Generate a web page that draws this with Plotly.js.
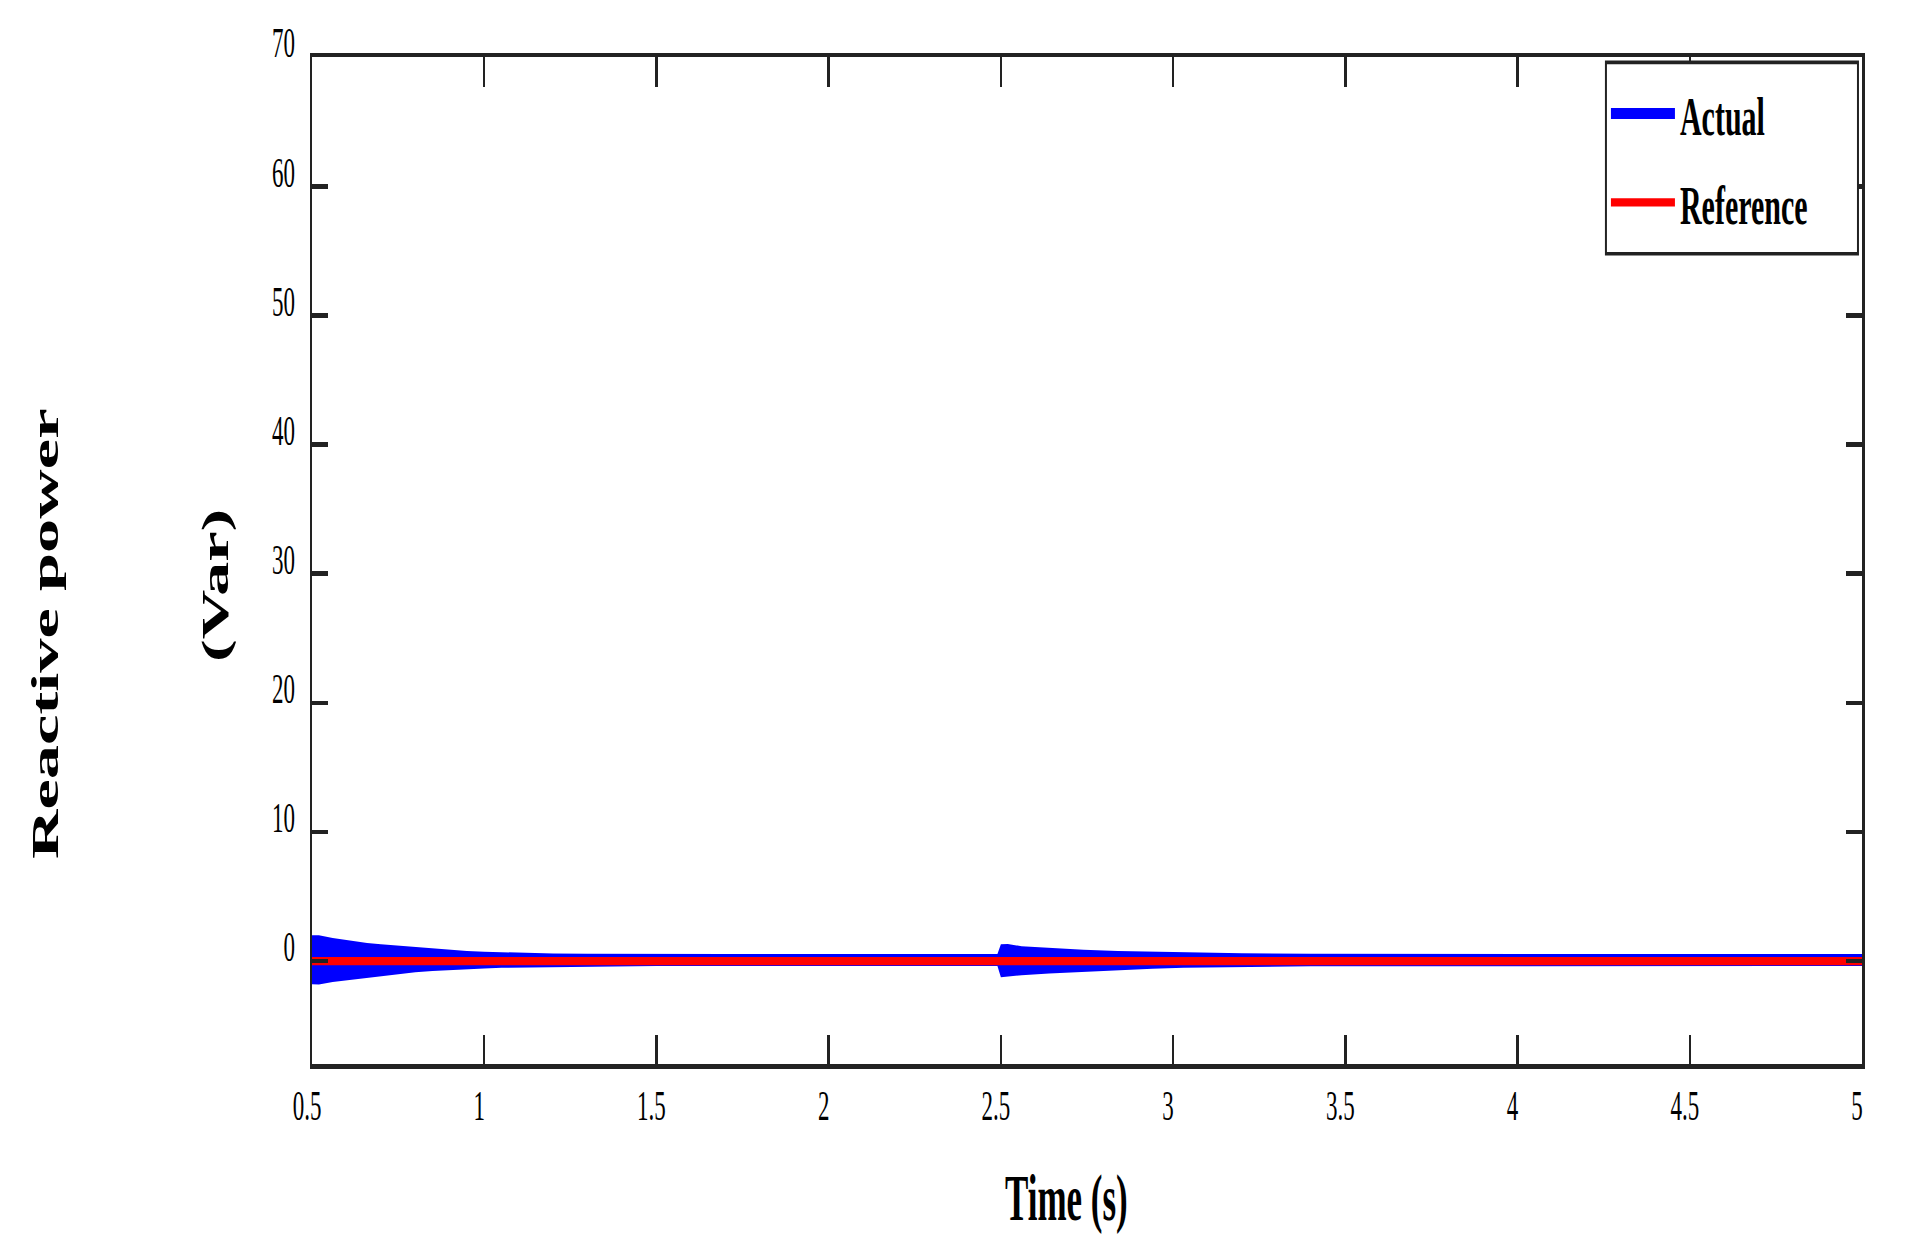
<!DOCTYPE html>
<html>
<head>
<meta charset="utf-8">
<script src="https://cdn.plot.ly/plotly-3.0.1.min.js"></script>
<style>
  html, body { margin: 0; padding: 0; background: #fff; width: 1906px; height: 1255px; }
  #wrap { width: 1906px; height: 678px; transform: scaleY(1.851); transform-origin: 0 0; }
</style>
</head>
<body>
<div id="wrap"><div id="chart"></div></div>
<script>
// Time axis ticks
const xTicks = [0.5, 1, 1.5, 2, 2.5, 3, 3.5, 4, 4.5, 5];
const xTickText = ['0.5', '1', '1.5', '2', '2.5', '3', '3.5', '4', '4.5', '5'];
const yTicks = [0, 10, 20, 30, 40, 50, 60, 70];
const yTickText = ['0', '10', '20', '30', '40', '50', '60', '70'];

// Envelope of the oscillating "Actual" reactive power (Var)
const tEnv = [0.5, 0.52, 0.56, 0.6, 0.66, 0.7, 0.76, 0.8, 0.85, 0.9, 0.95, 1.0, 1.05, 1.1, 1.2, 1.3, 1.4, 1.5, 1.7, 2.0, 2.49,
              2.5, 2.52, 2.56, 2.64, 2.74, 2.84, 2.94, 3.03, 3.2, 3.4, 3.6, 3.9, 4.5, 5.0];
const actualUpper = [2.0, 2.0, 1.78, 1.6, 1.39, 1.3, 1.16, 1.05, 0.93, 0.85, 0.77, 0.72, 0.67, 0.64, 0.58, 0.56, 0.54, 0.54, 0.54, 0.54, 0.54,
                     1.3, 1.32, 1.15, 0.98, 0.87, 0.77, 0.7, 0.64, 0.6, 0.57, 0.55, 0.54, 0.54, 0.54];
const actualLower = [-1.8, -1.82, -1.63, -1.5, -1.24, -1.1, -0.93, -0.86, -0.77, -0.68, -0.62, -0.57, -0.52, -0.5, -0.45, -0.42, -0.4, -0.39, -0.39, -0.39, -0.39,
                     -1.26, -1.2, -1.1, -0.96, -0.82, -0.7, -0.6, -0.52, -0.44, -0.41, -0.4, -0.39, -0.39, -0.39];

// Mean actual value and reference value
const tLine = [0.5, 5];
const actualMean = [0.08, 0.08];
const referenceValue = [0, 0];

const blue = '#0000ff';
const red = '#ff0000';
const axisColor = '#222222';
const serif = 'Liberation Serif, Times New Roman, serif';

const traces = [
  { x: tEnv, y: actualLower, mode: 'lines', line: { width: 0, color: blue }, showlegend: false, hoverinfo: 'skip' },
  { x: tEnv, y: actualUpper, mode: 'lines', line: { width: 0, color: blue }, fill: 'tonexty', fillcolor: blue, showlegend: false, hoverinfo: 'skip' },
  { x: tLine, y: actualMean, mode: 'lines', name: 'Actual', legendgroup: 'a', line: { width: 6, color: blue } },
  { x: tLine, y: referenceValue, mode: 'lines', name: 'Reference', legendgroup: 'r', line: { width: 4.5, color: red } }
];

const axisCommon = {
  showline: true, mirror: 'allticks', linecolor: axisColor, linewidth: 2.5,
  ticks: 'inside', ticklen: 16, tickwidth: 2.5, tickcolor: axisColor,
  showgrid: false, zeroline: false,
  tickfont: { family: serif, size: 23, color: '#000' }
};

const layout = {
  width: 1906, height: 678,
  margin: { l: 312, r: 44, t: 31, b: 103 },
  paper_bgcolor: '#fff', plot_bgcolor: '#fff',
  showlegend: true,
  xaxis: Object.assign({}, axisCommon, {
    range: [0.5, 5], tickmode: 'array', tickvals: xTicks, ticktext: xTickText,
    ticklabelshift: -5
  }),
  yaxis: Object.assign({}, axisCommon, {
    range: [-8, 70], tickmode: 'array', tickvals: yTicks, ticktext: yTickText,
    ticklabelshift: -8, ticklabelstandoff: 10
  }),
  legend: {
    x: 0.8348, y: 0.992, xanchor: 'left', yanchor: 'top',
    bgcolor: 'rgba(0,0,0,0)', borderwidth: 0,
    font: { family: serif, size: 30, color: '#000', weight: 'bold' },
    itemwidth: 64, tracegroupgap: 6
  },
  shapes: [
    { type: 'rect', xref: 'paper', yref: 'paper', x0: 0.8348, x1: 0.9974, y0: 0.805, y1: 0.995,
      line: { color: axisColor, width: 2 }, fillcolor: '#fff', layer: 'above' }
  ],
  annotations: [
    { text: '<b>Time (s)</b>', xref: 'paper', yref: 'paper', x: 0.4865, y: -0.134, xanchor: 'center', yanchor: 'middle',
      showarrow: false, font: { family: serif, size: 35, color: '#000' } },
    { text: '<b>Reactive power</b>', xref: 'paper', yref: 'paper', x: -0.1723, y: 0.428, xanchor: 'center', yanchor: 'middle',
      textangle: -90, showarrow: false, font: { family: serif, size: 37, color: '#000' } },
    { text: '<b>(Var)</b>', xref: 'paper', yref: 'paper', x: -0.0619, y: 0.475, xanchor: 'center', yanchor: 'middle',
      textangle: -90, showarrow: false, font: { family: serif, size: 37, color: '#000' } }
  ]
};

Plotly.newPlot('chart', traces, layout, { displayModeBar: false, staticPlot: true });
</script>
</body>
</html>
